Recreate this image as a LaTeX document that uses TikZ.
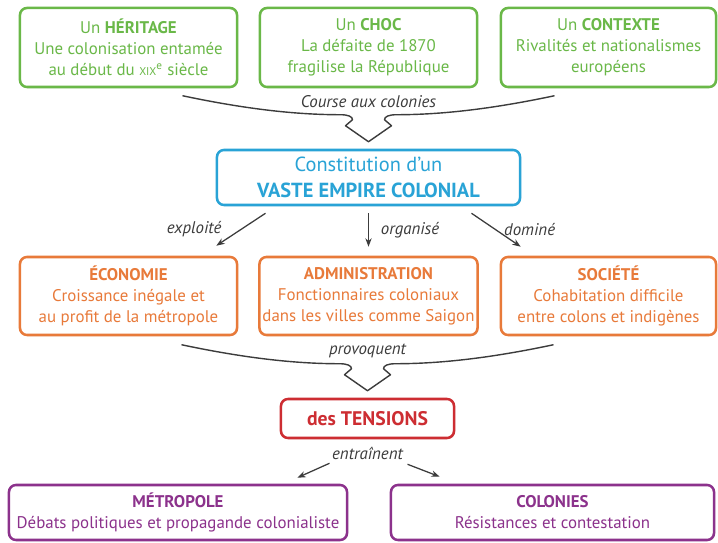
\documentclass[tikz,border=0pt]{standalone}
\usepackage{fontspec}
\setmainfont{PT Sans}
\usepackage{tikz}
\usetikzlibrary{arrows.meta,calc,shadows}
\definecolor{herigreen}{RGB}{106,184,72}
\definecolor{empireblue}{RGB}{41,163,214}
\definecolor{ecoorange}{RGB}{232,122,58}
\definecolor{tensionred}{RGB}{205,45,50}
\definecolor{sidepurple}{RGB}{140,50,140}
\definecolor{inkgray}{RGB}{60,60,60}

\begin{document}
\begin{tikzpicture}[x=0.025cm,y=-0.025cm,
    box/.style={draw, line width=1.8pt, rounded corners=5pt, fill=white, align=center, inner sep=0pt,
        font=\fontsize{12}{15}\selectfont,
        drop shadow={shadow xshift=0.8pt, shadow yshift=-0.8pt, opacity=0.18}},
    greenbox/.style={box, draw=herigreen, text=herigreen, minimum height=1.975cm},
    orangebox/.style={box, draw=ecoorange, text=ecoorange, minimum height=1.95cm},
    purplebox/.style={box, draw=sidepurple, text=sidepurple, minimum height=1.375cm},
    link/.style={-{Stealth[length=6pt,width=4.5pt]}, line width=0.9pt, inkgray},
    tag/.style={font=\fontsize{12}{14}\selectfont\itshape, text=inkgray},
    funnel/.pic={
        \draw[line width=1pt, inkgray, line join=round]
            (-186,-46) .. controls (-120,-32) and (-70,-27) .. (-28,-27)
            .. controls (-20,-27) and (-16,-25) .. (-16,-22) -- (-23,-16) -- (0,0)
            -- (23,-16) -- (16,-22) .. controls (16,-25) and (20,-27) .. (28,-27)
            .. controls (70,-27) and (120,-32) .. (186,-46);
    }]

    \useasboundingbox (0,0) rectangle (718,543);

    \node[greenbox, minimum width=5.425cm] (heritage) at (128.5,47.5)
        {Un \textbf{HÉRITAGE}\\Une colonisation entamée\\au début du {\fontsize{8}{8}\selectfont XIX}\textsuperscript{e} siècle};
    \node[greenbox, minimum width=5.425cm] (choc) at (368.5,47.5)
        {Un \textbf{CHOC}\\La défaite de 1870\\fragilise la République};
    \node[greenbox, minimum width=5.375cm] (contexte) at (608.5,47.5)
        {Un \textbf{CONTEXTE}\\Rivalités et nationalismes\\européens};

    \node[box, draw=empireblue, text=empireblue, minimum width=7.575cm, minimum height=1.375cm,
        font=\fontsize{14.5}{19}\selectfont] (empire) at (368.5,177.5)
        {Constitution d’un\\\textbf{VASTE EMPIRE COLONIAL}};

    \pic at ($(empire.north)+(0,-7)$) {funnel};
    \node[tag] (course) at ($(empire.north)+(0,-47)$) {Course aux colonies};

    \node[orangebox, minimum width=5.425cm] (economie) at (128.5,296)
        {\textbf{ÉCONOMIE}\\Croissance inégale et\\au profit de la métropole};
    \node[orangebox, minimum width=5.45cm] (administration) at (368.5,296)
        {\textbf{ADMINISTRATION}\\Fonctionnaires coloniaux\\dans les villes comme Saigon};
    \node[orangebox, minimum width=5.375cm] (societe) at (608.5,296)
        {\textbf{SOCIÉTÉ}\\Cohabitation difficile\\entre colons et indigènes};

    \draw[link] ($(empire.south)+(-103,7)$) -- ($(economie.north east)+(-22,-10)$)
        node[tag, midway, anchor=east, xshift=-10pt] {exploité};
    \draw[link] ($(empire.south)+(0,7)$) -- ($(administration.north)+(0,-9)$)
        node[tag, midway, anchor=west, xshift=5pt] {organisé};
    \draw[link] ($(empire.south)+(103,7)$) -- ($(societe.north west)+(21,-9)$)
        node[tag, midway, anchor=west, xshift=2pt] {dominé};

    \node[box, draw=tensionred, text=tensionred, minimum width=4.325cm, minimum height=0.975cm,
        font=\fontsize{14}{16}\selectfont\bfseries] (tensions) at (367.5,418.5) {des TENSIONS};

    \pic at ($(tensions.north)+(0,-7)$) {funnel};
    \node[tag] (provoquent) at ($(tensions.north)+(0,-47)$) {provoquent};

    \node[tag] (entrainent) at ($(tensions.south)+(0,14)$) {entraînent};

    \node[purplebox, minimum width=8.45cm] (metropole) at (178,512.5)
        {\textbf{MÉTROPOLE}\\Débats politiques et propagande colonialiste};
    \node[purplebox, minimum width=8.075cm] (colonies) at (552.5,512.5)
        {\textbf{COLONIES}\\Résistances et contestation};

    \draw[link] ($(tensions.south)+(-38,24)$) -- ($(metropole.north east)+(-51,-6)$);
    \draw[link] ($(tensions.south)+(40,25)$) -- ($(colonies.north west)+(50,-7)$);
\end{tikzpicture}
\end{document}
